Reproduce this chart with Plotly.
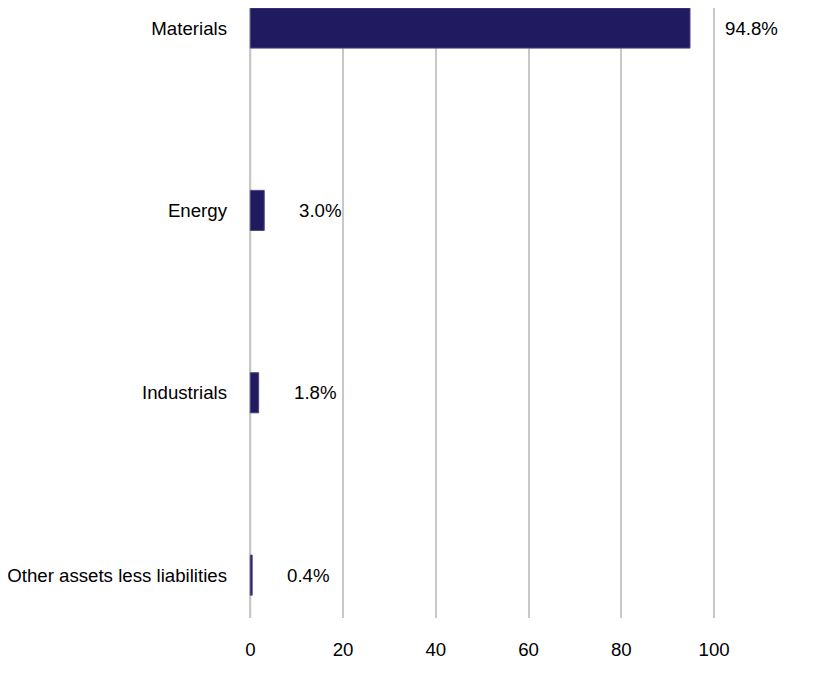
import plotly.graph_objects as go

sectors = ['Materials', 'Energy', 'Industrials', 'Other assets less liabilities']
weights = [94.8, 3.0, 1.8, 0.4]
labels = ['94.8%', '3.0%', '1.8%', '0.4%']
x_ticks = [0, 20, 40, 60, 80, 100]

font = dict(family='Liberation Sans, Arial, sans-serif', size=18.67, color='#000000')

fig = go.Figure()
fig.add_trace(go.Bar(
    x=weights, y=sectors, orientation='h', width=0.22,
    marker=dict(color='#201a60', line=dict(color='#4d4785', width=1)),
    hoverinfo='skip',
))

# value labels sit a fixed distance right of each bar end
for s, w, t in zip(sectors, weights, labels):
    fig.add_annotation(x=w, y=s, text=t, showarrow=False, xanchor='left',
                       xshift=33, font=font)

# baseline grid line at 0 (plotly drops it otherwise)
fig.add_shape(type='line', x0=0, x1=0, y0=0, y1=1, yref='paper', layer='below',
              line=dict(color='#c8c8c8', width=2))

fig.update_layout(
    width=816, height=682,
    margin=dict(l=240, r=25, t=0, b=72),
    plot_bgcolor='white', paper_bgcolor='white',
    font=font, showlegend=False,
    xaxis=dict(range=[-0.5, 118.3], tickvals=x_ticks, showgrid=True,
               gridcolor='#c8c8c8', gridwidth=2, zeroline=False,
               showline=False, ticks='', ticklabelstandoff=18),
    yaxis=dict(range=[3.235, -0.11], showgrid=False, zeroline=False,
               showline=False, ticks='', ticklabelstandoff=20),
)

fig.write_html('out.html')
